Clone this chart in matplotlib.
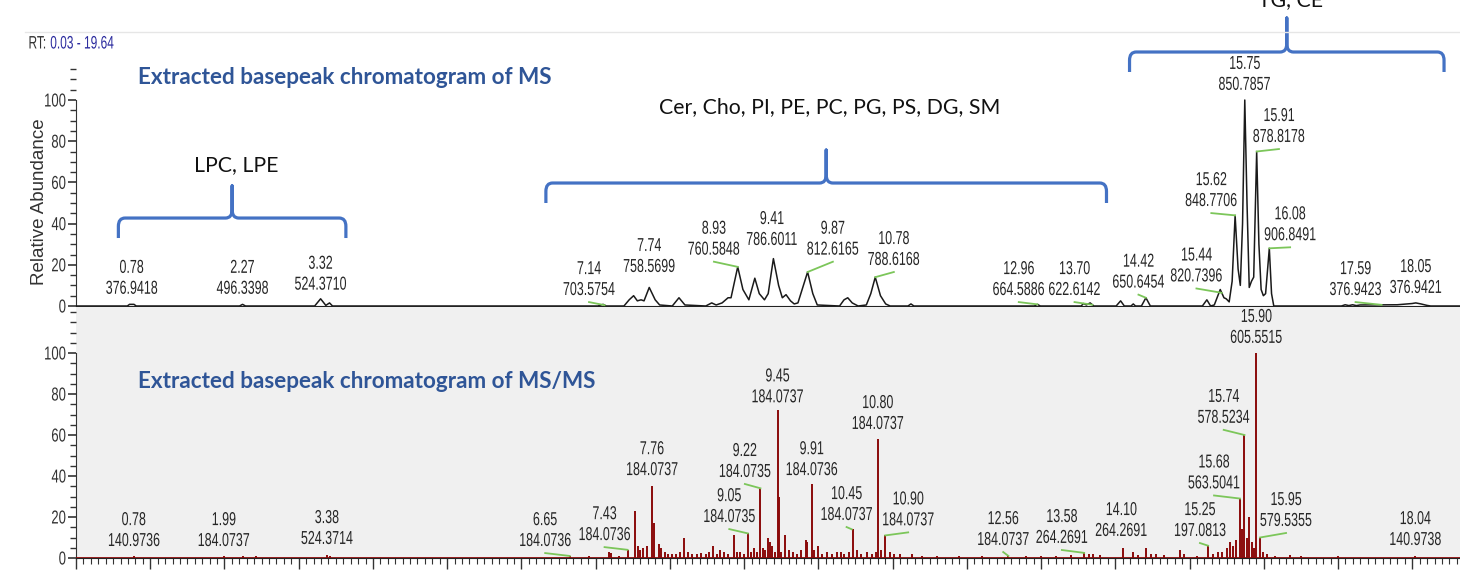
import numpy as np
import matplotlib
matplotlib.use("Agg")
import matplotlib.pyplot as plt
from matplotlib.path import Path
from matplotlib.patches import PathPatch
from matplotlib.lines import Line2D
from matplotlib.ticker import MultipleLocator
from matplotlib.patheffects import AbstractPathEffect
from matplotlib.transforms import Affine2D

# ---- MS base peak trace (retention time [min], relative abundance [%]) ----
ms_time = [0.03, 0.72, 0.75, 0.81, 0.84, 2.23, 2.27, 2.31, 3.24, 3.32, 3.39, 3.44, 3.48,
           7.05, 7.12, 7.16, 7.40, 7.47, 7.53, 7.58, 7.63, 7.67, 7.74, 7.82, 7.88,
           8.05, 8.14, 8.22, 8.50, 8.58, 8.64, 8.72, 8.80, 8.84, 8.93, 9.00, 9.08,
           9.16, 9.22, 9.29, 9.34, 9.41, 9.48, 9.53, 9.58, 9.64, 9.69, 9.74, 9.87,
           9.94, 10.00, 10.30, 10.36, 10.41, 10.47, 10.55, 10.66, 10.72, 10.78, 10.85,
           10.92, 10.98, 11.22, 11.26, 11.30, 12.92, 12.96, 13.00, 13.55, 13.58, 13.62,
           13.67, 13.72, 14.02, 14.08, 14.13, 14.22, 14.25, 14.28, 14.36, 14.42, 14.48,
           15.18, 15.24, 15.29, 15.34, 15.42, 15.47, 15.50, 15.54, 15.58, 15.62, 15.66,
           15.69, 15.72, 15.75, 15.78, 15.81, 15.84, 15.87, 15.91, 15.94, 15.97, 16.00,
           16.03, 16.08, 16.11, 16.14, 17.05, 17.10, 17.15, 17.20, 17.25, 17.30, 17.80,
           18.00, 18.05, 18.12, 18.20, 18.25, 19.64]
ms_abund = [0, 0, 0.8, 0.8, 0, 0, 0.8, 0, 0, 3.5, 0.3, 1.5, 0,
            0, 0.8, 0, 0, 3, 5, 2.5, 3, 2.5, 9, 3, 0.5,
            0, 4, 0.5, 0, 1.5, 0.5, 1.5, 4, 4, 19, 8, 3,
            13.5, 6, 3, 6, 23, 10, 4, 5.5, 2.5, 1, 1.5, 16.5,
            6, 0.5, 0, 3, 4, 1.5, 0, 0.5, 6, 14, 5,
            1, 0, 0, 1, 0, 0, 0.8, 0, 0, 1.2, 0.5,
            1.5, 0, 0, 2.5, 0, 0, 1, 0, 0, 4, 0,
            0, 3, 0, 0.5, 8, 4, 3.5, 2, 12, 44, 18,
            10, 40, 100, 50, 9, 12, 14, 75, 30, 8, 5,
            6, 28, 6, 0, 0, 0.6, 0.2, 0.6, 0.2, 0.5, 0.6,
            1.2, 1.5, 1, 0.3, 0, 0]

# ---- MS/MS base peak trace (sticks) ----
msms_time = [0.78, 1.99, 2.25, 2.43, 3.38, 3.42,
             6.65, 6.91, 7.18, 7.20, 7.32, 7.44, 7.53, 7.57, 7.60, 7.64, 7.69, 7.76, 7.79,
             7.85, 7.88, 7.93, 7.98, 8.03, 8.08, 8.13, 8.19, 8.24, 8.30, 8.36, 8.42, 8.48,
             8.53, 8.58, 8.63, 8.68, 8.73, 8.78, 8.86, 8.90, 8.95, 9.00, 9.05, 9.09, 9.13,
             9.18, 9.22, 9.25, 9.28, 9.32, 9.35, 9.38, 9.42, 9.45, 9.47, 9.50, 9.55, 9.60,
             9.66, 9.71, 9.76, 9.83, 9.85, 9.91, 9.94, 10.00, 10.05, 10.12, 10.18, 10.25,
             10.30, 10.35, 10.41, 10.46, 10.52, 10.58, 10.65, 10.72, 10.77, 10.81, 10.84,
             10.90, 10.96, 11.02, 11.10, 11.26, 11.40, 11.60, 11.90, 12.20, 12.56, 12.80,
             13.00, 13.20, 13.40, 13.58, 13.64, 13.70, 13.80, 14.10, 14.24, 14.30, 14.41,
             14.48, 14.55, 14.65, 14.87, 14.92, 15.10, 15.25, 15.32, 15.38, 15.44, 15.50,
             15.55, 15.59, 15.63, 15.68, 15.70, 15.74, 15.77, 15.80, 15.84, 15.87, 15.90,
             15.95, 15.99, 16.04, 16.15, 16.35, 16.50, 17.00, 18.04]
msms_abund = [1, 1, 0.8, 0.8, 1.5, 0.8,
              1, 1, 3, 2.5, 1, 4, 23, 6, 4, 5, 6, 35, 17,
              7, 5, 3, 2, 2, 2, 3, 10, 3, 2, 2, 2.5, 2,
              3, 6, 2, 4, 3, 2, 11, 3, 3, 2, 12, 3, 5,
              3, 34, 5, 4, 10, 8, 6, 3, 72, 30, 3, 11, 4,
              3, 2, 4, 9, 8, 36, 4, 6, 2, 3, 2, 3,
              3, 2, 3, 14, 4, 2, 3, 2, 3, 58, 4,
              11, 3, 2, 2, 2, 1, 1, 0.8, 0.8, 1, 1,
              1, 1, 1.5, 2.5, 2, 2, 1.5, 5, 3, 1.5, 5,
              2, 2, 1.5, 4, 2, 1, 6, 2, 3, 3, 5,
              8, 6, 9, 29, 14, 60, 10, 20, 8, 5, 100,
              10, 3, 2, 1, 1.5, 1, 0.8, 1]

# ---- peak annotations ----
ms_lbl_rt = [0.78, 2.27, 3.32, 7.14, 7.74, 8.93, 9.41, 9.87, 10.78, 12.96, 13.70,
             14.42, 15.44, 15.62, 15.75, 15.91, 16.08, 17.59, 18.05]
ms_lbl_mz = ["376.9418", "496.3398", "524.3710", "703.5754", "758.5699", "760.5848",
             "786.6011", "812.6165", "788.6168", "664.5886", "622.6142", "650.6454",
             "820.7396", "848.7706", "850.7857", "878.8178", "906.8491", "376.9423",
             "376.9421"]
ms_lbl_dx = [0, 0, 0, -0.21, 0, -0.32, -0.02, 0.34, 0.25, -0.25, -0.24,
             -0.10, -0.34, -0.32, 0, 0.30, 0.28, -0.35, 0]
ms_lbl_y = [4, 4, 6, 3.4, 14.6, 23, 27.7, 23, 18, 3.4, 3.4,
            7, 10, 46.6, 103, 77.7, 30, 3.4, 4.4]

msms_lbl_rt = [0.78, 1.99, 3.38, 6.65, 7.43, 7.76, 9.05, 9.22, 9.45, 9.91, 10.45,
               10.80, 10.90, 12.56, 13.58, 14.10, 15.25, 15.68, 15.74, 15.90, 15.95, 18.04]
msms_lbl_mz = ["140.9736", "184.0737", "524.3714", "184.0736", "184.0736", "184.0737",
               "184.0735", "184.0735", "184.0737", "184.0736", "184.0737", "184.0737",
               "184.0737", "184.0737", "264.2691", "264.2691", "197.0813", "563.5041",
               "578.5234", "605.5515", "579.5355", "140.9738"]
msms_lbl_dx = [0, 0, 0, -0.33, -0.31, 0, -0.25, -0.21, 0, 0, -0.07,
               0, 0.31, -0.07, -0.30, -0.02, -0.11, -0.35, -0.28, 0, 0.35, 0]
msms_lbl_y = [3.9, 3.9, 4.9, 3.9, 6.8, 38.5, 15.6, 37.6, 74, 38.5, 16.6,
              61, 14, 4.4, 5.4, 8.8, 8.8, 32, 64, 103, 13.7, 4.4]

# lipid class groups: text, start rt, end rt
groups = ["LPC, LPE", "Cer, Cho, PI, PE, PC, PG, PS, DG, SM", "TG, CE"]
group_start = [0.60, 6.35, 14.20]
group_end = [3.66, 13.89, 18.43]

SANS = ["Liberation Sans", "DejaVu Sans"]
CALI = ["Lato", "DejaVu Sans"]
TXT = "#262626"
BLUE = "#4472C4"
TITLE_BLUE = "#2F5597"
GREEN = "#7CC65A"
RED = "#8B0A0A"


class Narrow(AbstractPathEffect):
    """Squeeze glyphs horizontally, like a condensed face."""

    def __init__(self, sx, anchor="center"):
        super().__init__()
        self.sx = sx
        self.anchor = anchor

    def draw_path(self, renderer, gc, tpath, affine, rgbFace=None):
        ext = tpath.get_extents(affine)
        if self.anchor == "center":
            cx = (ext.x0 + ext.x1) / 2
        elif self.anchor == "right":
            cx = ext.x1
        else:
            cx = ext.x0
        squeeze = Affine2D().translate(-cx, 0).scale(self.sx, 1).translate(cx, 0)
        renderer.draw_path(gc, tpath, affine + squeeze, rgbFace)


W, H = 1460, 577
fig = plt.figure(figsize=(W / 100, H / 100), dpi=100)

x0 = 76 / W
width = (1534 - 76) / W
ax1 = fig.add_axes([x0, (H - 306) / H, width, (306 - 60) / H])
ax2 = fig.add_axes([x0, (H - 558) / H, width, (558 - 307) / H])

for ax, top in ((ax1, (306 - 60) / 2.06), (ax2, (558 - 307) / 2.05)):
    ax.set_xlim(0.03, 19.64)
    ax.set_ylim(0, top)
    for s in ("top", "right"):
        ax.spines[s].set_visible(False)
    ax.spines["left"].set_bounds(0, 100)
    ax.spines["left"].set_color("#333333")
    ax.spines["bottom"].set_color("#222222")
    ax.set_yticks([0, 20, 40, 60, 80, 100])
    ax.yaxis.set_minor_locator(MultipleLocator(5))
    ax.tick_params(axis="y", which="major", length=6, width=1.2, colors="#333333",
                   labelsize=13.5, pad=1)
    ax.tick_params(axis="y", which="minor", length=4, width=1.0, colors="#333333")
    for t in ax.get_yticklabels():
        t.set_family(SANS)
        t.set_path_effects([Narrow(0.7, "right")])

ax1.set_facecolor("white")
ax1.tick_params(axis="x", which="both", bottom=False, labelbottom=False)
ax2.set_facecolor("#F0F0F0")
ax2.set_xticks(np.arange(0, 20))
ax2.xaxis.set_minor_locator(MultipleLocator(0.1))
ax2.tick_params(axis="x", which="major", length=8, width=1.0, colors="#333333",
                labelsize=13, pad=7)
ax2.tick_params(axis="x", which="minor", length=4, width=0.8, colors="#333333")
for t in ax2.get_xticklabels():
    t.set_family(SANS)
    t.set_path_effects([Narrow(0.72)])

# traces
ax1.plot(ms_time, ms_abund, color="#1a1a1a", lw=1.1, zorder=3)
ax2.vlines(msms_time, 0, msms_abund, color=RED, lw=1.4, zorder=3)
ax2.axhline(0, color=RED, lw=2.0, zorder=3)


def label_peaks(ax, rts, mzs, dxs, ys, peak_h):
    for rt, mz, dx, y in zip(rts, mzs, dxs, ys):
        ax.text(rt + dx, y, f"{rt:.2f}\n{mz}", ha="center", va="bottom",
                multialignment="center", fontsize=13.5, family=SANS,
                color=TXT, linespacing=1.3, clip_on=False, zorder=5,
                path_effects=[Narrow(0.665)])
        if abs(dx) > 0.05:
            ax.plot([rt + dx, rt], [y - 1.5, peak_h(rt)], color=GREEN, lw=1.3,
                    clip_on=False, zorder=4)


ms_t = np.array(ms_time)
ms_a = np.array(ms_abund)
mm_t = np.array(msms_time)
mm_a = np.array(msms_abund)
label_peaks(ax1, ms_lbl_rt, ms_lbl_mz, ms_lbl_dx, ms_lbl_y,
            lambda rt: np.interp(rt, ms_t, ms_a))
label_peaks(ax2, msms_lbl_rt, msms_lbl_mz, msms_lbl_dx, msms_lbl_y,
            lambda rt: mm_a[np.abs(mm_t - rt) < 0.015].max(initial=0))


def brace(ax, xa, xb, ytop, drop, tip, cx=0.09, cy=4.0):
    xm = (xa + xb) / 2
    verts = [(xa, ytop - drop), (xa, ytop - cy), (xa, ytop), (xa + cx, ytop),
             (xm - cx, ytop), (xm, ytop), (xm, ytop + cy), (xm, ytop + tip),
             (xm, ytop + cy), (xm, ytop), (xm + cx, ytop),
             (xb - cx, ytop), (xb, ytop), (xb, ytop - cy), (xb, ytop - drop)]
    codes = [Path.MOVETO, Path.LINETO, Path.CURVE3, Path.CURVE3,
             Path.LINETO, Path.CURVE3, Path.CURVE3, Path.LINETO,
             Path.LINETO, Path.CURVE3, Path.CURVE3,
             Path.LINETO, Path.CURVE3, Path.CURVE3, Path.LINETO]
    ax.add_patch(PathPatch(Path(verts, codes), fill=False, ec=BLUE, lw=2.3,
                           capstyle="butt", joinstyle="round", clip_on=False, zorder=6))
    return xm


brace_top = [42.7, 59.7, 123.3]
brace_tip = [15.6, 16.0, 16.5]
brace_drop = 9.7
label_y = [68.4, 96.6, 148.5]
for name, xa, xb, yt, tp, ly in zip(groups, group_start, group_end, brace_top,
                                    brace_tip, label_y):
    xm = brace(ax1, xa, xb, yt, brace_drop, tp)
    ax1.text(xm + 0.05, ly, name, ha="center", va="center", fontsize=15.3,
             family=CALI, color="#111111", clip_on=False, zorder=6)

# headers
fig.add_artist(Line2D([25 / W, 1.0], [1 - 32 / H, 1 - 32 / H], color="#E6E6E6", lw=1.0))
fig.text(28 / W, 1 - 44 / H, "RT:", fontsize=13, family=SANS, color="#333333",
         va="center", ha="left", path_effects=[Narrow(0.66, "left")])
fig.text(50 / W, 1 - 44 / H, "0.03 - 19.64", fontsize=13, family=SANS,
         color="#2B2B9E", va="center", ha="left", path_effects=[Narrow(0.66, "left")])
fig.text(138 / W, 1 - 78 / H, "Extracted basepeak chromatogram of MS", fontsize=16.2,
         fontweight="bold", family=CALI, color=TITLE_BLUE, va="center")
fig.text(138 / W, 1 - 381 / H, "Extracted basepeak chromatogram of MS/MS", fontsize=16.2,
         fontweight="bold", family=CALI, color=TITLE_BLUE, va="center")
fig.text(40 / W, 1 - 202 / H, "Relative Abundance", rotation=90, fontsize=13.5,
         family=SANS, color="#333333", va="center", ha="center")

fig.savefig("out.png", dpi=100)
